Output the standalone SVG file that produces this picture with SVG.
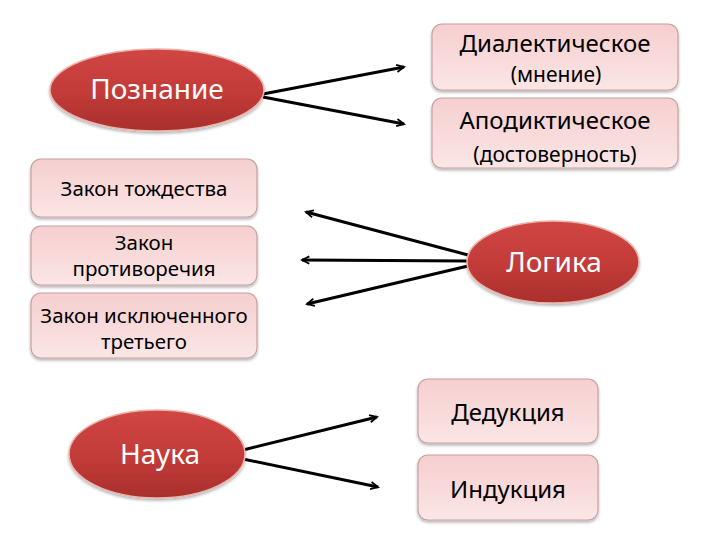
<svg xmlns="http://www.w3.org/2000/svg" width="720" height="540" viewBox="0 0 720 540">
<defs>
<linearGradient id="red" x1="0" y1="0" x2="0" y2="1">
<stop offset="0" stop-color="#d04644"/>
<stop offset="0.55" stop-color="#c23b38"/>
<stop offset="1" stop-color="#a82f2c"/>
</linearGradient>
<linearGradient id="pink" x1="0" y1="0" x2="0" y2="1">
<stop offset="0" stop-color="#f6cfcf"/>
<stop offset="0.6" stop-color="#f9dcdc"/>
<stop offset="1" stop-color="#fbe6e6"/>
</linearGradient>
<filter id="sh" x="-10%" y="-10%" width="120%" height="130%">
<feGaussianBlur in="SourceAlpha" stdDeviation="1.5"/>
<feOffset dx="0" dy="2" result="b"/>
<feComponentTransfer><feFuncA type="linear" slope="0.3"/></feComponentTransfer>
<feMerge><feMergeNode/><feMergeNode in="SourceGraphic"/></feMerge>
</filter>
<marker id="arr" viewBox="0 0 12 12" refX="10" refY="6" markerWidth="11" markerHeight="11" markerUnits="userSpaceOnUse" orient="auto">
<path d="M2,2 L10,6 L2,10" fill="none" stroke="#000" stroke-width="2"/>
</marker>
</defs>
<style>
.ell{fill:url(#red);stroke:#eab4ac;stroke-width:1.5;filter:url(#sh)}
.box{fill:url(#pink);stroke:#c9a0a0;stroke-width:1.2;filter:url(#sh)}
.et{font-family:"Noto Sans","Open Sans",sans-serif;fill:#fff;font-size:28px;text-anchor:middle}
.bt{font-family:"Noto Sans","Open Sans",sans-serif;fill:#000;font-size:24px;text-anchor:middle}
.bs{font-family:"Noto Sans","Open Sans",sans-serif;fill:#000;font-size:21px;text-anchor:middle}
.lt{font-family:"Noto Sans","Open Sans",sans-serif;fill:#000;font-size:20.5px;text-anchor:middle}
.con line{stroke:#000;stroke-width:3;marker-end:url(#arr)}
</style>
<g class="con" id="connectors">
<line x1="263" y1="94" x2="404" y2="67"/>
<line x1="263" y1="97" x2="404" y2="124"/>
<line x1="468" y1="255" x2="306" y2="212"/>
<line x1="468" y1="261" x2="302" y2="260"/>
<line x1="468" y1="266" x2="307" y2="304"/>
<line x1="243" y1="450" x2="377" y2="417"/>
<line x1="243" y1="459" x2="378" y2="487"/>
</g>
<g id="poznanie"><ellipse class="ell" cx="157" cy="90" rx="107" ry="41"/><text class="et" x="157" y="99">Познание</text></g>
<g id="logika"><ellipse class="ell" cx="553" cy="262" rx="86" ry="41"/><text class="et" x="554" y="272">Логика</text></g>
<g id="nauka"><ellipse class="ell" cx="157" cy="454" rx="88" ry="44"/><text class="et" x="160" y="464">Наука</text></g>
<g id="dialekt"><rect class="box" x="432" y="24" width="246" height="66" rx="10"/><text class="bt" x="555" y="52">Диалектическое</text><text class="bs" x="556" y="82">(мнение)</text></g>
<g id="apodikt"><rect class="box" x="432" y="98" width="246" height="70" rx="10"/><text class="bt" x="555" y="129">Аподиктическое</text><text class="bs" x="555" y="162">(достоверность)</text></g>
<g id="tozhd"><rect class="box" x="31" y="159" width="226" height="58" rx="10"/><text class="lt" x="144" y="196">Закон тождества</text></g>
<g id="protiv"><rect class="box" x="31" y="226" width="226" height="59" rx="10"/><text class="lt" x="144" y="250">Закон</text><text class="lt" x="144" y="276">противоречия</text></g>
<g id="iskl"><rect class="box" x="31" y="293" width="226" height="65" rx="10"/><text class="lt" x="144" y="323">Закон исключенного</text><text class="lt" x="144" y="349">третьего</text></g>
<g id="deduk"><rect class="box" x="418" y="379" width="180" height="64" rx="10"/><text class="bt" x="508" y="421">Дедукция</text></g>
<g id="induk"><rect class="box" x="418" y="455" width="180" height="65" rx="10"/><text class="bt" x="508" y="498">Индукция</text></g>
</svg>
